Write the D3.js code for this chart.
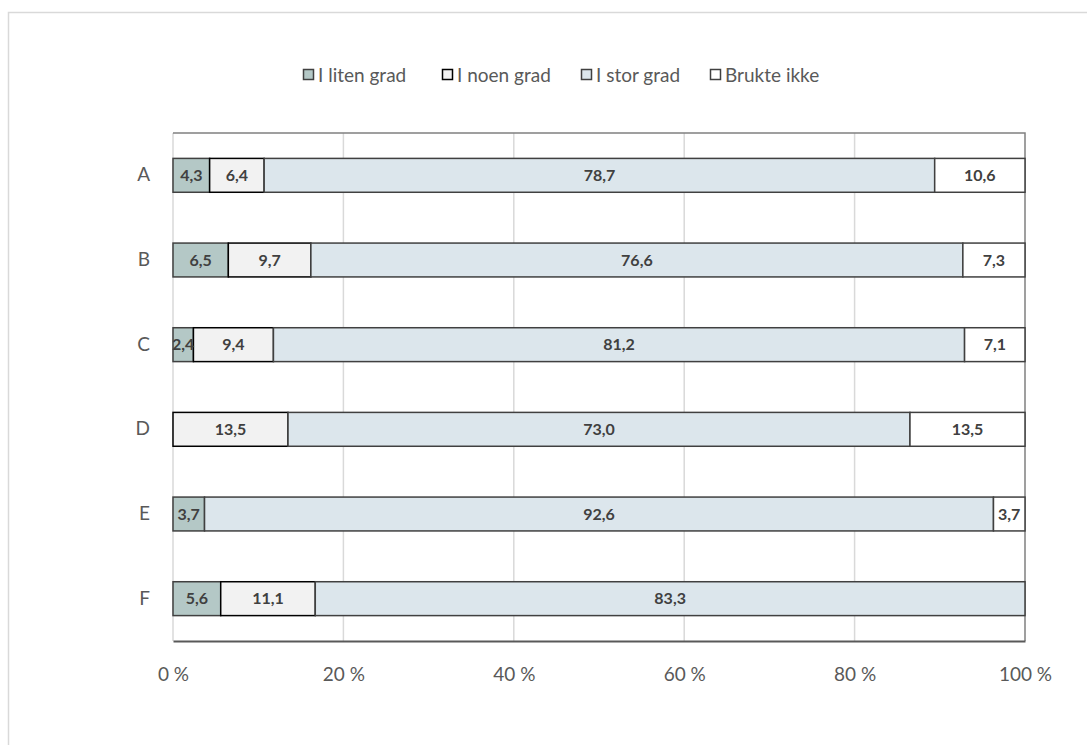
<!DOCTYPE html>
<html>
<head>
<meta charset="utf-8">
<title>Stacked bar</title>
<script src="https://d3js.org/d3.v7.min.js"></script>
<style>
  body { margin: 0; background: #fff; }
  text { font-family: Lato, "Open Sans", sans-serif; }
</style>
</head>
<body>
<div id="chart"></div>
<script>
// data
const categories = ["A", "B", "C", "D", "E", "F"];
const seriesNames = ["I liten grad", "I noen grad", "I stor grad", "Brukte ikke"];
const litenGrad = [4.3, 6.5, 2.4, 0, 3.7, 5.6];
const noenGrad = [6.4, 9.7, 9.4, 13.5, 0, 11.1];
const storGrad = [78.7, 76.6, 81.2, 73.0, 92.6, 83.3];
const bruktIkke = [10.6, 7.3, 7.1, 13.5, 3.7, 0];
const xTicks = [0, 20, 40, 60, 80, 100];

const fills = ["#b4c8c6", "#f2f2f2", "#dce6ec", "#ffffff"];
const strokes = ["#404040", "#000000", "#404040", "#404040"];

const W = 1087, H = 745;
const margin = {left: 173, right: 62, top: 133, bottom: 104};

const svg = d3.select("#chart").append("svg")
  .attr("width", W).attr("height", H);

// outer frame
svg.append("rect")
  .attr("x", 8.5).attr("y", 12.5)
  .attr("width", 1100).attr("height", 800)
  .attr("fill", "none").attr("stroke", "#d9d9d9").attr("stroke-width", 1.5);

const rows = categories.map((c, i) => {
  const vals = [litenGrad[i], noenGrad[i], storGrad[i], bruktIkke[i]];
  const total = d3.sum(vals);
  const r = {cat: c};
  seriesNames.forEach((s, j) => { r[s] = vals[j] * 100 / total; r["raw" + j] = vals[j]; });
  return r;
});

const stack = d3.stack().keys(seriesNames);
const layers = stack(rows);

const x = d3.scaleLinear().domain([0, 100]).range([margin.left, W - margin.right]);
const y = d3.scaleBand().domain(categories)
  .range([margin.top, H - margin.bottom]).paddingInner(0.6).paddingOuter(0.3);

// gridlines
svg.append("g").selectAll("line")
  .data(xTicks.filter(t => t < 100))
  .join("line")
  .attr("x1", d => x(d)).attr("x2", d => x(d))
  .attr("y1", margin.top).attr("y2", H - margin.bottom)
  .attr("stroke", "#d9d9d9").attr("stroke-width", 1.5);

// plot frame top/right
svg.append("path")
  .attr("d", `M${x(0)},${margin.top}H${x(100)}V${H - margin.bottom}`)
  .attr("fill", "none").attr("stroke", "#808080").attr("stroke-width", 1.5);

// bars
const fmt = v => d3.format(".1f")(v).replace(".", ",");

layers.forEach((layer, j) => {
  const g = svg.append("g");
  g.selectAll("rect")
    .data(layer.filter(d => d.data["raw" + j] > 0))
    .join("rect")
    .attr("x", d => x(d[0]))
    .attr("y", d => y(d.data.cat))
    .attr("width", d => x(d[1]) - x(d[0]))
    .attr("height", y.bandwidth())
    .attr("fill", fills[j])
    .attr("stroke", strokes[j])
    .attr("stroke-width", 1.5);
});

layers.forEach((layer, j) => {
  svg.append("g").selectAll("text")
    .data(layer.filter(d => d.data["raw" + j] > 0))
    .join("text")
    .attr("x", d => (x(d[0]) + x(d[1])) / 2)
    .attr("y", d => y(d.data.cat) + y.bandwidth() / 2)
    .attr("dy", "0.36em")
    .attr("text-anchor", "middle")
    .attr("font-size", 16)
    .attr("font-weight", "bold")
    .attr("fill", "#404040")
    .text(d => fmt(d.data["raw" + j]));
});

// x axis
const xAxis = d3.axisBottom(x).tickValues(xTicks).tickSize(0).tickPadding(27)
  .tickFormat(d => d + " %");
const gx = svg.append("g")
  .attr("transform", `translate(0,${H - margin.bottom})`)
  .call(xAxis);
gx.select(".domain").attr("stroke", "#595959").attr("stroke-width", 2);
gx.selectAll("text").attr("font-size", 19).attr("fill", "#595959")
  .style("font-family", "Lato, 'Open Sans', sans-serif");

// y axis
const yAxis = d3.axisLeft(y).tickSize(0).tickPadding(23);
const gy = svg.append("g")
  .attr("transform", `translate(${margin.left},0)`)
  .call(yAxis);
gy.select(".domain").remove();
gy.selectAll("text").attr("font-size", 19).attr("fill", "#595959")
  .style("font-family", "Lato, 'Open Sans', sans-serif");

// legend
const legendX = [303, 442, 581, 710];
const legend = svg.append("g");
seriesNames.forEach((s, j) => {
  legend.append("rect")
    .attr("x", legendX[j] + 0.5).attr("y", 69.5)
    .attr("width", 10).attr("height", 10)
    .attr("fill", fills[j]).attr("stroke", j === 1 ? "#000" : "#404040").attr("stroke-width", 1.5);
  legend.append("text")
    .attr("x", legendX[j] + 15).attr("y", 75)
    .attr("dy", "0.35em")
    .attr("font-size", 19).attr("fill", "#595959")
    .text(s);
});
</script>
</body>
</html>
